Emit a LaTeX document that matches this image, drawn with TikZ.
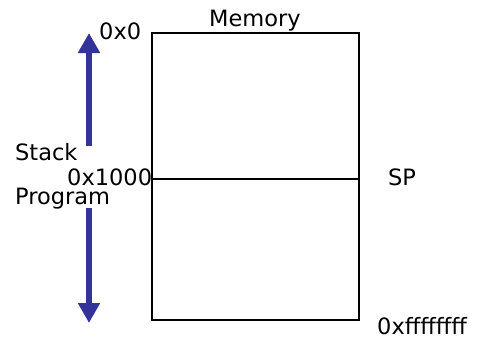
\documentclass[tikz,border=0pt]{standalone}
\usepackage{fontspec}
\setmainfont{DejaVu Sans}
\usetikzlibrary{arrows.meta}
\definecolor{arrowblue}{HTML}{333399}
\begin{document}
\begin{tikzpicture}[x=1pt,y=-1pt,
  lbl/.style={inner sep=0pt,anchor=base west,font=\fontsize{22.5}{27}\selectfont},
  memblock/.style={draw,line width=1.8pt,inner sep=0pt,anchor=north west,minimum width=207pt},
  growarrow/.style={draw=arrowblue,line width=6.5pt,-{Triangle[length=20pt,width=21pt]}}]
\useasboundingbox (0,0) rectangle (481,337);
\node[memblock,minimum height=146pt] (upper) at (151,32) {};
\node[memblock,minimum height=141pt] (lower) at (151,178) {};
\node[lbl] (memory) at (209,27) {Memory};
\node[lbl] (addr0) at (99,40) {0x0};
\node[lbl] (stack) at (15,160) {Stack};
\node[lbl] (addr1000) at (67,185) {0x1000};
\node[lbl] (program) at (15,204) {Program};
\node[lbl] (sp) at (388,185) {SP};
\node[lbl] (addrmax) at (377,334) {0xffffffff};
\coordinate (upstart) at (89,146);
\coordinate (upend) at (89,33);
\coordinate (downstart) at (89,208);
\coordinate (downend) at (89,323);
\draw[growarrow] (upstart) -- (upend);
\draw[growarrow] (downstart) -- (downend);
\end{tikzpicture}
\end{document}
